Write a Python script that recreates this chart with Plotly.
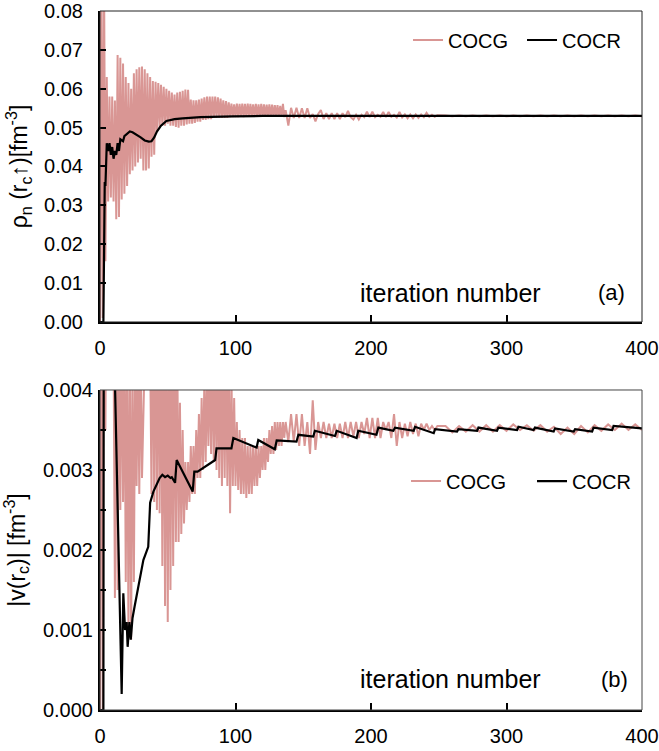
import plotly.graph_objects as go

# ---------------- data ----------------
# panel (a): COCG, dense part, one value per iteration (0..136)
a_cocg_dense = [
    0.000, 0.095, 0.001, 0.090, 0.0156, 0.063, 0.031, 0.058, 0.032, 0.058,
    0.031, 0.057, 0.0264, 0.0687, 0.027, 0.068, 0.0315, 0.0665, 0.033, 0.063,
    0.035, 0.0615, 0.038, 0.060, 0.039, 0.064, 0.040, 0.065, 0.041, 0.0655,
    0.042, 0.0657, 0.039, 0.065, 0.039, 0.064, 0.0395, 0.063, 0.0425, 0.062,
    0.043, 0.0618, 0.049, 0.0615, 0.050, 0.061, 0.0505, 0.0605, 0.0505, 0.060,
    0.051, 0.0595, 0.0505, 0.059, 0.0505, 0.0585, 0.0502, 0.059, 0.050, 0.0592,
    0.0505, 0.0595, 0.0505, 0.0598, 0.0508, 0.0597, 0.051, 0.0572, 0.051, 0.057,
    0.0512, 0.057, 0.0515, 0.0572, 0.0515, 0.0575, 0.052, 0.0578, 0.052, 0.058,
    0.0522, 0.058, 0.0522, 0.058, 0.0525, 0.058, 0.0525, 0.0578, 0.0525, 0.0575,
    0.0525, 0.057, 0.0525, 0.0568, 0.0525, 0.0565, 0.0527, 0.0562, 0.0527, 0.056,
    0.0527, 0.0562, 0.0527, 0.0561, 0.0528, 0.0562, 0.0527, 0.0561, 0.0528, 0.0562,
    0.0528, 0.0561, 0.0528, 0.056, 0.0528, 0.0561, 0.0528, 0.056, 0.0528, 0.0561,
    0.0528, 0.056, 0.0528, 0.0559, 0.0528, 0.056, 0.0528, 0.0559, 0.0528, 0.0558,
    0.0528, 0.0558, 0.0528, 0.0556, 0.0528, 0.0561, 0.0527,
]
# panel (a): COCG, iterations 137..249 every 2nd iteration
a_cocg_mid = [
    0.0545, 0.0505, 0.0551, 0.0525, 0.0551, 0.0525, 0.055, 0.0525, 0.055, 0.0525,
    0.0535, 0.0516, 0.0535, 0.0545, 0.0522, 0.0537, 0.0522, 0.0537, 0.0522, 0.0537,
    0.0522, 0.0537, 0.0527, 0.0543, 0.0527, 0.0521, 0.0533, 0.0521, 0.0533, 0.0527,
    0.0541, 0.0527, 0.0541, 0.0527, 0.0533, 0.0528, 0.054, 0.0527, 0.054, 0.0528,
    0.0533, 0.0526, 0.054, 0.0526, 0.0534, 0.0524, 0.0534, 0.0524, 0.0534, 0.0525,
    0.0534, 0.0527, 0.0538, 0.0528, 0.0533, 0.0528, 0.0532,
]
# panel (a): COCG, iterations 255..400 every 5th iteration
a_cocg_tail = [
    0.0531, 0.0529, 0.0531, 0.0529, 0.0531, 0.0529, 0.0531, 0.0529, 0.0531, 0.0529,
    0.0531, 0.0529, 0.0531, 0.0529, 0.0531, 0.0529, 0.0531, 0.0529, 0.0531, 0.0529,
    0.0531, 0.0529, 0.0531, 0.0529, 0.0531, 0.0529, 0.0531, 0.0529, 0.0531, 0.0529,
]
# panel (a): COCR
a_cocr_iter = [0, 2.5, 3.5, 4, 5, 6, 7, 8, 9, 10, 11, 12, 13, 14, 15, 17, 18, 20, 22, 24,
               27, 30, 33, 36, 38, 40, 42, 45, 49, 55, 61, 74, 98, 120, 400]
a_cocr_val = [0, 0, 0.036, 0.035, 0.046, 0.044, 0.046, 0.043, 0.045, 0.042,
              0.044, 0.043, 0.046, 0.044, 0.047, 0.0465, 0.0478, 0.0485, 0.049, 0.0488,
              0.0482, 0.0475, 0.0467, 0.0464, 0.0465, 0.0475, 0.049, 0.0505, 0.0517, 0.0522,
              0.0524, 0.0527, 0.0529, 0.0530, 0.0530]

# panel (b): COCG, dense part (0..136)
b_cocg_dense = [
    0.0, 0.008, 0.0, 0.008, 0.0035, 0.0065, 0.0050, 0.0062, 0.0048, 0.0060,
    0.0046, 0.0014, 0.0055, 0.0015, 0.0052, 0.0025, 0.0050, 0.0026, 0.0048, 0.0016,
    0.0047, 0.0009, 0.0046, 0.00088, 0.0045, 0.0016, 0.0044, 0.0028, 0.0045, 0.0027,
    0.0046, 0.0029, 0.0050, 0.0047, 0.0052, 0.0046, 0.0051, 0.0045, 0.0027, 0.0055,
    0.0026, 0.0054, 0.0025, 0.0053, 0.00246, 0.0052, 0.0018, 0.0051, 0.0013, 0.0050,
    0.0011, 0.0049, 0.0015, 0.0048, 0.0018, 0.0047, 0.0021, 0.0046, 0.0021, 0.00384,
    0.0022, 0.0035, 0.00233, 0.0031, 0.0025, 0.0031, 0.0026, 0.0033, 0.0027, 0.0033,
    0.0027, 0.0035, 0.0029, 0.0037, 0.0029, 0.0039, 0.0030, 0.0041, 0.0031, 0.0043,
    0.0033, 0.0044, 0.0032, 0.0045, 0.0031, 0.0046, 0.0030, 0.0046, 0.0029, 0.0046,
    0.0028, 0.0045, 0.0029, 0.0045, 0.0028, 0.0044, 0.00246, 0.0042, 0.0028, 0.0039,
    0.0028, 0.0036, 0.00275, 0.0035, 0.0027, 0.0034, 0.0027, 0.0034, 0.00265, 0.0033,
    0.0027, 0.0033, 0.0027, 0.0033, 0.0028, 0.0033, 0.0028, 0.0033, 0.0029, 0.0033,
    0.0030, 0.0034, 0.0030, 0.0034, 0.0031, 0.0035, 0.0032, 0.00355, 0.0032, 0.0036,
    0.00325, 0.0036, 0.0033, 0.0036, 0.0033, 0.0036, 0.0034,
]
# panel (b): COCG, iterations 137..249 every 2nd iteration
b_cocg_mid = [
    0.0036, 0.00335, 0.0037, 0.00335, 0.0037, 0.0033, 0.0037, 0.0033, 0.0036, 0.0032,
    0.00387, 0.00325, 0.0036, 0.0034, 0.0036, 0.0034, 0.00358, 0.0034, 0.00358, 0.0034,
    0.00358, 0.0034, 0.0036, 0.0034, 0.0036, 0.00342, 0.0036, 0.0034, 0.0036, 0.00345,
    0.00365, 0.0034, 0.00365, 0.0034, 0.00365, 0.0034, 0.0036, 0.0035, 0.0036, 0.0034,
    0.0037, 0.0033, 0.0036, 0.0034, 0.00358, 0.00342, 0.0036, 0.00345, 0.00358, 0.00342,
    0.00358, 0.0035, 0.00358, 0.0035, 0.00355, 0.0035, 0.00355,
]
# panel (b): COCG, iterations 255..400 every 5th iteration
b_cocg_tail = [
    0.00355, 0.00347, 0.00355, 0.00348, 0.00356, 0.00348, 0.00356, 0.00348, 0.00356, 0.00349,
    0.00357, 0.0035, 0.00356, 0.00349, 0.00356, 0.00348, 0.00354, 0.00345, 0.00353, 0.00345,
    0.00355, 0.00347, 0.00356, 0.00349, 0.00357, 0.0035, 0.00358, 0.0035, 0.00357, 0.0035,
]
# panel (b): COCR
b_cocr_iter = [0, 2.5, 3, 10, 16, 17.2, 18.5, 19.7, 20.4, 21.7, 22.7, 24, 25.6, 32, 35.6,
               37, 39.4, 42, 44, 46, 48, 50, 52, 53, 55.4, 56.6, 68.4, 69.6, 72, 85,
               86, 97, 98.4, 115.6, 116.8, 129, 130.4, 145, 146.4, 157.4, 158.6, 173.4,
               174.7, 189.4, 190.6, 204, 205.4, 216.5, 217.7, 231.5, 232.5, 246.3, 247.3,
               263.5, 264.5, 278.3, 279.3, 293, 294, 307.8, 308.8, 320, 321, 334.8, 335.8,
               349.6, 350.6, 363.2, 364.2, 378, 379, 400]
b_cocr_val = [0, 0, 0.009, 0.0049, 0.0002, 0.00146, 0.0010, 0.0011, 0.00079, 0.0011,
              0.00088, 0.00115, 0.0013, 0.001875, 0.00204, 0.00259, 0.00273, 0.00284, 0.0029, 0.00294,
              0.00291, 0.00293, 0.0029, 0.00291, 0.00284, 0.003125, 0.00273, 0.00298, 0.00298, 0.003125,
              0.00327, 0.00327, 0.0034, 0.00328, 0.003375, 0.00326, 0.00337, 0.003354, 0.00344, 0.003417,
              0.00349, 0.003425, 0.00349, 0.0034, 0.00349, 0.00344, 0.00353, 0.00349, 0.00353, 0.00349,
              0.00354, 0.00346, 0.00351, 0.00348, 0.00351, 0.00349, 0.00353, 0.00349, 0.00353, 0.0035,
              0.00354, 0.0035, 0.00353, 0.00348, 0.00352, 0.00348, 0.00351, 0.00348, 0.00353, 0.0035,
              0.00355, 0.00352]

# iteration numbering of the three COCG segments: (first iteration, step)
seg_start_step = [(0, 1), (137, 2), (255, 5)]
x_ticks = [0, 100, 200, 300, 400]
series_names = ["COCG", "COCR"]


def join_segments(segments):
    xs, ys = [], []
    for (start, step), vals in zip(seg_start_step, segments):
        xs += [start + i * step for i in range(len(vals))]
        ys += list(vals)
    return xs, ys


a_x, a_y = join_segments([a_cocg_dense, a_cocg_mid, a_cocg_tail])
b_x, b_y = join_segments([b_cocg_dense, b_cocg_mid, b_cocg_tail])

PINK = "#D99694"
FONT = "Liberation Sans, Arial, sans-serif"

fig = go.Figure()
fig.add_trace(go.Scatter(x=a_x, y=a_y, mode="lines", name=series_names[0],
                         line=dict(color=PINK, width=2), xaxis="x", yaxis="y", legend="legend"))
fig.add_trace(go.Scatter(x=a_cocr_iter, y=a_cocr_val, mode="lines", name=series_names[1],
                         line=dict(color="black", width=2.2), xaxis="x", yaxis="y", legend="legend"))
fig.add_trace(go.Scatter(x=b_x, y=b_y, mode="lines", name=series_names[0],
                         line=dict(color=PINK, width=2), xaxis="x2", yaxis="y2", legend="legend2"))
fig.add_trace(go.Scatter(x=b_cocr_iter, y=b_cocr_val, mode="lines", name=series_names[1],
                         line=dict(color="black", width=2.2), xaxis="x2", yaxis="y2", legend="legend2"))

tickfont = dict(family=FONT, size=20, color="black")
common_x = dict(range=[0, 400], tickvals=x_ticks, ticks="inside", ticklen=7, tickwidth=1.5,
                tickcolor="black", showline=True, linecolor="black", linewidth=2,
                showgrid=False, zeroline=False, tickfont=tickfont, automargin=False,
                ticklabelstandoff=7)
common_y = dict(ticks="inside", ticklen=6, tickwidth=1.5, tickcolor="black", showline=True,
                linecolor="black", linewidth=2, showgrid=False, zeroline=False,
                tickfont=tickfont, automargin=False)

legend_common = dict(orientation="h", font=dict(family=FONT, size=20, color="black"),
                     bgcolor="rgba(0,0,0,0)", xanchor="left", yanchor="middle",
                     entrywidthmode="pixels", tracegroupgap=0)


def label(text, x, y, size):
    return dict(text=text, xref="paper", yref="paper", x=x, y=y, xanchor="center",
                yanchor="middle", showarrow=False, font=dict(family=FONT, size=size))


fig.update_layout(
    width=659, height=751, autosize=False,
    margin=dict(l=100, r=17, t=11, b=41, autoexpand=False),
    paper_bgcolor="white", plot_bgcolor="white",
    font=dict(family=FONT, color="black"),
    xaxis=dict(domain=[0, 1], anchor="y", **common_x),
    yaxis=dict(domain=[0.5551, 1], anchor="x", range=[0, 0.08], dtick=0.01, tickformat=".2f",
               ticklabelstandoff=11,
               title=dict(text="ρ<sub>n</sub> (r<sub>c</sub>↑)[fm<sup>-3</sup>]",
                          font=dict(family=FONT, size=23), standoff=10), **common_y),
    xaxis2=dict(domain=[0, 1], anchor="y2", **common_x),
    yaxis2=dict(domain=[0, 0.4578], anchor="x2", range=[0, 0.004], dtick=0.001, tickformat=".3f",
                ticklabelstandoff=1,
                minor=dict(dtick=0.0005, ticks="inside", ticklen=6, tickwidth=1.5, tickcolor="black"),
                title=dict(text="|v(r<sub>c</sub>)| [fm<sup>-3</sup>]",
                           font=dict(family=FONT, size=23), standoff=15), **common_y),
    legend=dict(x=0.5683, y=0.9585, entrywidth=69, **legend_common),
    legend2=dict(x=0.5646, y=0.3275, entrywidth=81, **legend_common),
    shapes=[
        dict(type="rect", xref="x domain", yref="y domain", x0=0, x1=1, y0=0, y1=1,
             line=dict(color="#222", width=1)),
        dict(type="rect", xref="x2 domain", yref="y2 domain", x0=0, x1=1, y0=0, y1=1,
             line=dict(color="#444", width=1)),
    ],
    annotations=[
        label("iteration number", 0.6476, 0.5966, 25),
        label("(a)", 0.9446, 0.5966, 22),
        label("iteration number", 0.6476, 0.0443, 25),
        label("(b)", 0.949, 0.0443, 22),
    ],
)

fig.write_html("out.html", config={"displayModeBar": False},
               post_script="document.body.style.margin='0';document.body.style.overflow='hidden';")
